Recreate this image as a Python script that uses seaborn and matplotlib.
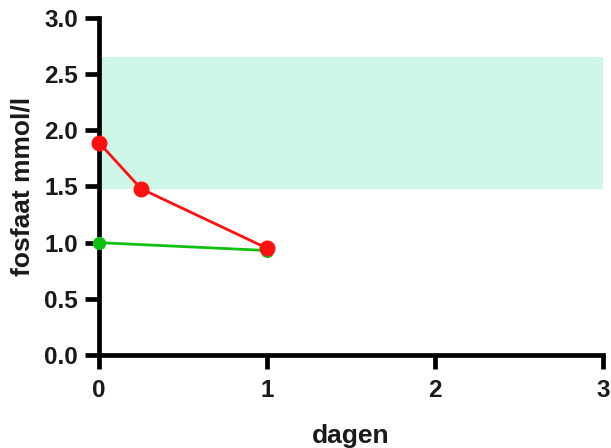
import matplotlib
matplotlib.use("Agg")
import matplotlib.pyplot as plt
import seaborn as sns
import pandas as pd

# Serum phosphate over time, two series
red_days = [0, 0.25, 1]
red_values = [1.89, 1.48, 0.95]
green_days = [0, 1]
green_values = [1.00, 0.93]

# Reference range
range_low = 1.48
range_high = 2.65

x_ticks = [0, 1, 2, 3]
y_ticks = [0.0, 0.5, 1.0, 1.5, 2.0, 2.5, 3.0]

sns.set_theme(style="ticks")
plt.rcParams["font.family"] = ["Liberation Sans", "DejaVu Sans"]

fig = plt.figure(figsize=(6.11, 4.48), dpi=100)
ax = fig.add_axes([0.162, 0.2076, 0.825, 0.7524])

ax.axhspan(range_low, range_high, xmin=0, xmax=1, color="#cdf6e6", lw=0, zorder=0)

green_df = pd.DataFrame({"dagen": green_days, "fosfaat": green_values})
red_df = pd.DataFrame({"dagen": red_days, "fosfaat": red_values})

sns.lineplot(data=green_df, x="dagen", y="fosfaat", ax=ax, color="#10c010",
             lw=2, marker="o", markersize=9.5, markeredgewidth=0, zorder=3,
             clip_on=False)
sns.lineplot(data=red_df, x="dagen", y="fosfaat", ax=ax, color="#ff1010",
             lw=2, marker="o", markersize=11.5, markeredgewidth=0, zorder=4,
             clip_on=False)

ax.set_xlim(0, 3)
ax.set_ylim(0, 3)
ax.set_xticks(x_ticks)
ax.set_yticks(y_ticks)
ax.set_xticklabels([str(t) for t in x_ticks])
ax.set_yticklabels([f"{t:.1f}" for t in y_ticks])

for s in ["top", "right"]:
    ax.spines[s].set_visible(False)
for s in ["left", "bottom"]:
    ax.spines[s].set_linewidth(3.4)
    ax.spines[s].set_color("black")
    ax.spines[s].set_capstyle("projecting")

ax.tick_params(axis="both", direction="out", width=3.4, length=10,
               color="black", labelsize=17.5)
ax.tick_params(axis="x", pad=7)
ax.tick_params(axis="y", pad=5)
for lab in ax.get_xticklabels() + ax.get_yticklabels():
    lab.set_fontweight("bold")
    lab.set_color("#1a1a1a")

ax.set_xlabel("dagen", fontsize=19, fontweight="bold", color="#1a1a1a", labelpad=16)
ax.set_ylabel("fosfaat mmol/l", fontsize=19, fontweight="bold", color="#1a1a1a", labelpad=7)

fig.savefig("out.png", dpi=100)
